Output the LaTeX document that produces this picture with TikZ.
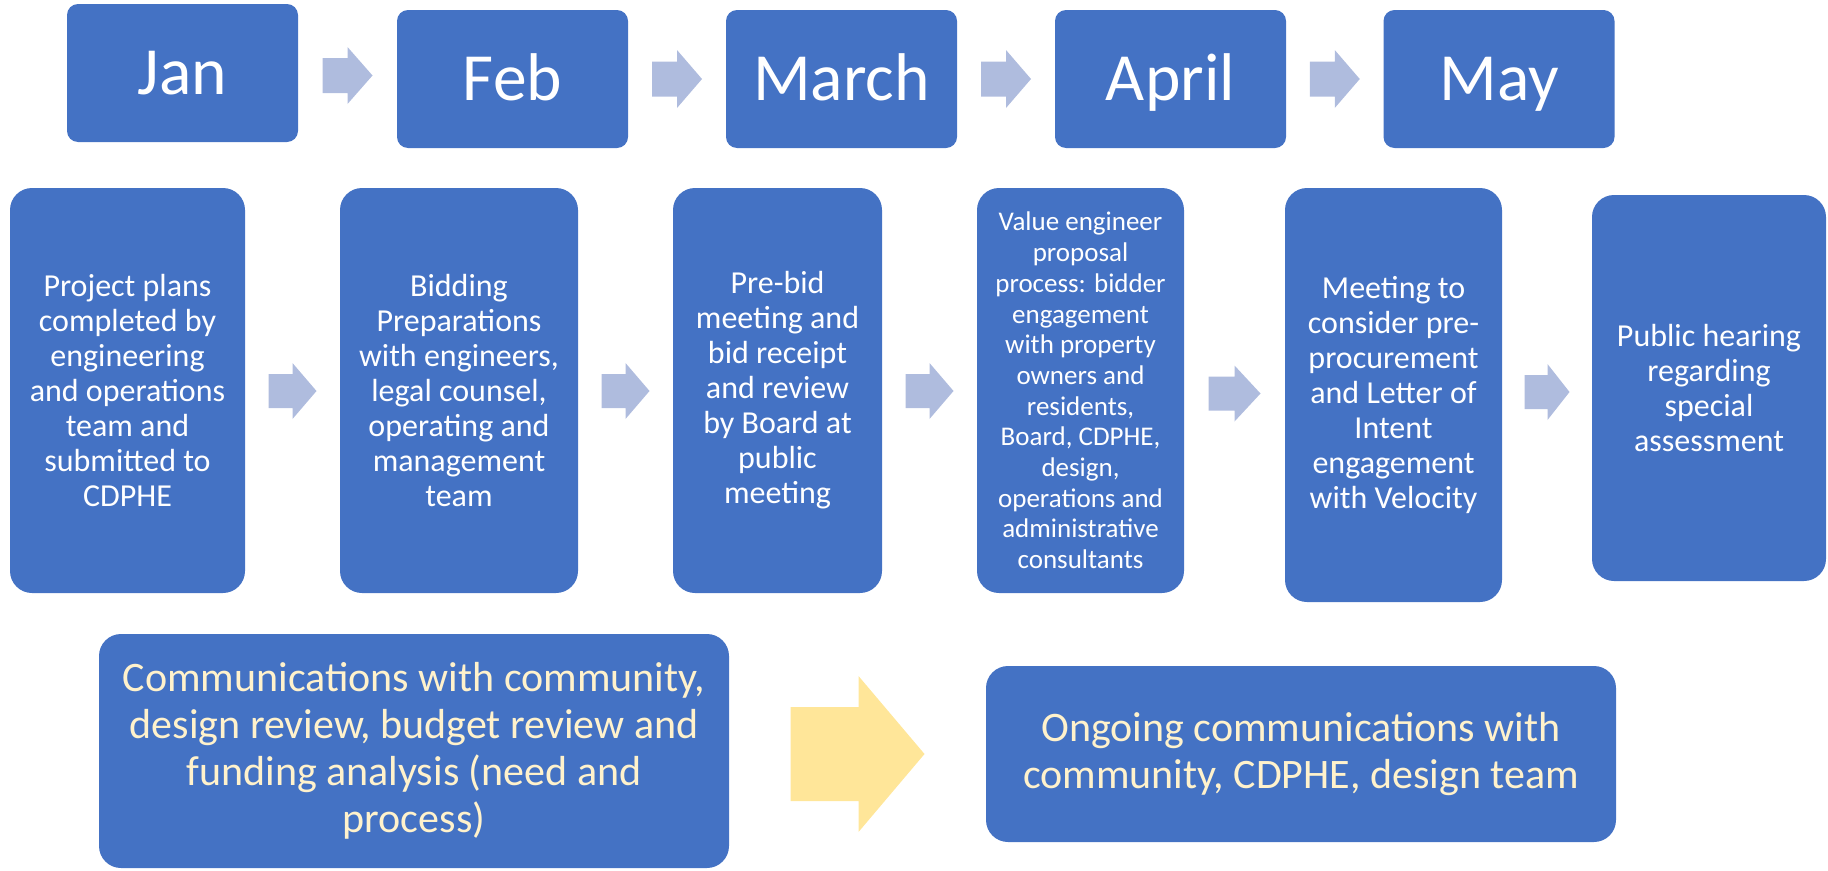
\documentclass[tikz,border=0pt]{standalone}
\usepackage{fontspec}
\setmainfont{Carlito}
\usetikzlibrary{calc}
\definecolor{boxblue}{RGB}{68,114,196}
\definecolor{arrowblue}{RGB}{175,188,222}
\definecolor{arrowgold}{RGB}{255,230,153}
\definecolor{textcream}{RGB}{255,242,204}
% #1 style, #2 from node, #3 to node, #4 y centre, #5 length, #6 head length, #7 half head width, #8 half shaft width
\newcommand\blockarrow[8]{%
  \fill[#1] let \p1=(#2.east), \p2=(#3.west), \n1={(\x1+\x2)/2} in
    ({\n1-#5/2},{#4-#8}) -- ({\n1+#5/2-#6},{#4-#8}) -- ({\n1+#5/2-#6},{#4-#7})
    -- ({\n1+#5/2},{#4}) -- ({\n1+#5/2-#6},{#4+#7}) -- ({\n1+#5/2-#6},{#4+#8})
    -- ({\n1-#5/2},{#4+#8}) -- cycle;}
\begin{document}
\begin{tikzpicture}[x=1pt,y=-1pt,
  month/.style={fill=boxblue, rounded corners=11pt, minimum width=231pt, minimum height=138pt,
    text=white, font=\fontsize{67.5}{70}\selectfont, text height=43.5pt, text depth=0pt, inner sep=0pt},
  task/.style={fill=boxblue, rounded corners=22pt, text=white, align=center,
    font=\fontsize{32}{35}\selectfont, inner sep=0pt},
  comm/.style={fill=boxblue, rounded corners=22pt, text=textcream, align=center,
    font=\fontsize{42}{47}\selectfont, inner sep=0pt}]
\useasboundingbox (0,0) rectangle (1828,870);

% month row
\node[month] (jan) at (182.5,73) {Jan};
\node[month] (feb) at (512.5,79) {Feb};
\node[month] (mar) at (841.5,79) {March};
\node[month] (apr) at (1170.5,79) {April};
\node[month] (may) at (1499,79) {May};

% task row
\node[task, minimum width=235pt, minimum height=405pt] (t1) at (127.5,390.5)
  {Project plans\\completed by\\engineering\\and operations\\team and\\submitted to\\CDPHE};
\node[task, minimum width=238pt, minimum height=405pt] (t2) at (459,390.5)
  {Bidding\\Preparations\\with engineers,\\legal counsel,\\operating and\\management\\team};
\node[task, minimum width=209pt, minimum height=405pt] (t3) at (777.5,390.5)
  {Pre-bid\\meeting and\\bid receipt\\and review\\by Board at\\public\\meeting};
\node[task, minimum width=207pt, minimum height=405pt, font=\fontsize{27}{30.7}\selectfont] (t4) at (1080.5,390.5)
  {Value engineer\\proposal\\process: bidder\\engagement\\with property\\owners and\\residents,\\Board, CDPHE,\\design,\\operations and\\administrative\\consultants};
\node[task, minimum width=217pt, minimum height=414pt] (t5) at (1393.5,395)
  {Meeting to\\consider pre-\\procurement\\and Letter of\\Intent\\engagement\\with Velocity};
\node[task, minimum width=234pt, minimum height=386pt] (t6) at (1709,388)
  {Public hearing\\regarding\\special\\assessment};

% communication row
\node[comm, minimum width=630pt, minimum height=234pt] (cA) at (414,751)
  {Communications with community,\\design review, budget review and\\funding analysis (need and\\process)};
\node[comm, minimum width=630pt, minimum height=176pt] (cB) at (1301,754)
  {Ongoing communications with\\community, CDPHE, design team};

% arrows
\blockarrow{arrowblue}{jan}{feb}{75.5}{50}{25}{28.5}{17.5}
\blockarrow{arrowblue}{feb}{mar}{79}{50}{25}{29}{17.5}
\blockarrow{arrowblue}{mar}{apr}{79}{50}{25}{29}{17.5}
\blockarrow{arrowblue}{apr}{may}{79}{50}{25}{29}{17.5}

\blockarrow{arrowblue}{t1}{t2}{391}{48}{24}{28}{17}
\blockarrow{arrowblue}{t2}{t3}{391}{48}{24}{28}{17}
\blockarrow{arrowblue}{t3}{t4}{391}{48}{24}{28}{17}
\blockarrow{arrowblue}{t4}{t5}{393.5}{52}{26}{28}{17}
\blockarrow{arrowblue}{t5}{t6}{392}{45}{22}{28}{17}

\blockarrow{arrowgold}{cA}{cB}{754}{134}{66}{78}{47}
\end{tikzpicture}
\end{document}
